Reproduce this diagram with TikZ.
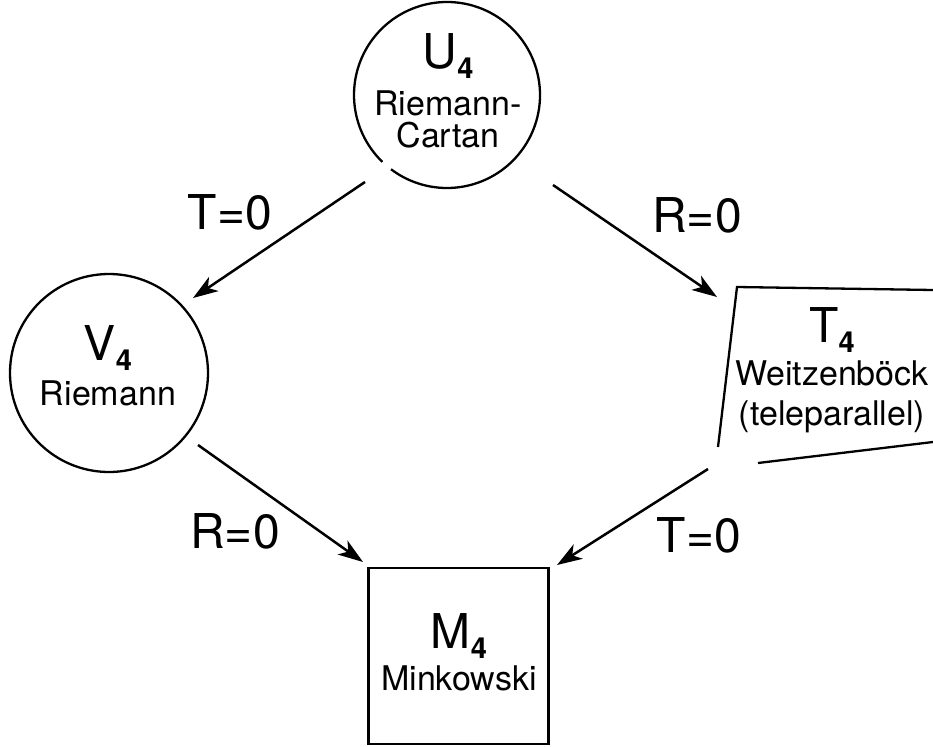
\documentclass[tikz,border=0pt]{standalone}
\usepackage{fontspec}
\setmainfont{TeX Gyre Heros}
\usetikzlibrary{arrows.meta}
\newcommand\mybig[1]{{\fontsize{48}{48}\selectfont #1}}
\newcommand\mysubs[1]{\raisebox{-10pt}{\fontsize{29}{29}\selectfont\bfseries #1}}
\begin{document}
\begin{tikzpicture}[x=1pt,y=-1pt,
  shapeline/.style={line width=2.3pt},
  conn/.style={line width=2.5pt,-{Stealth[length=25pt,width=17pt,inset=7pt]}},
  txt/.style={inner sep=0pt,anchor=base,align=center},
  eqlbl/.style={inner sep=0pt,anchor=base,font=\fontsize{48}{48}\selectfont},
  ring/.style={circle,inner sep=0pt,outer sep=0pt}]
\useasboundingbox (0,0) rectangle (933,746);
% U4
\node[ring,minimum size=186pt] (u) at (447,95) {};
\draw[shapeline] (u.233) arc[start angle=233,end angle=586,radius=93pt];
\node[txt,font=\fontsize{34}{32}\selectfont] (ut) at (448,148) {\mybig{U}\mysubs{4}\\[12pt]Riemann-\\Cartan};
% V4
\node[ring,draw,shapeline,minimum size=198pt] (v) at (109,373) {};
\node[txt,font=\fontsize{34}{45}\selectfont] (vt) at (108,405) {\mybig{V}\mysubs{4}\\Riemann};
% T4
\coordinate (q1) at (718,447);
\coordinate (q2) at (737,287);
\coordinate (q3) at (933,290);
\coordinate (q4) at (758,463);
\coordinate (q5) at (933,442);
\draw[shapeline] (q1) -- (q2) -- (q3);
\draw[shapeline] (q4) -- (q5);
\node[txt,font=\fontsize{34}{40}\selectfont] (tt) at (832,425) {\mybig{T}\mysubs{4}\\[3pt]Weitzenböck\\(teleparallel)};
% M4
\node[draw,shapeline,rectangle,minimum width=180pt,minimum height=176pt,inner sep=0pt] (m) at (458.5,656) {};
\node[txt,font=\fontsize{34}{42}\selectfont] (mt) at (459,690) {\mybig{M}\mysubs{4}\\Minkowski};
% arrows
\coordinate (a1s) at (365,182); \coordinate (a1e) at (193,298);
\coordinate (a2s) at (553,185); \coordinate (a2e) at (717,297);
\coordinate (a3s) at (198,445); \coordinate (a3e) at (363,562);
\coordinate (a4s) at (708,469); \coordinate (a4e) at (557,565);
\draw[conn] (a1s) -- (a1e);
\draw[conn] (a2s) -- (a2e);
\draw[conn] (a3s) -- (a3e);
\draw[conn] (a4s) -- (a4e);
% labels
\node[eqlbl] (l1) at (230,229) {T=0};
\node[eqlbl] (l2) at (697,232) {R=0};
\node[eqlbl] (l3) at (235,548) {R=0};
\node[eqlbl] (l4) at (699,552) {T=0};
\end{tikzpicture}
\end{document}
